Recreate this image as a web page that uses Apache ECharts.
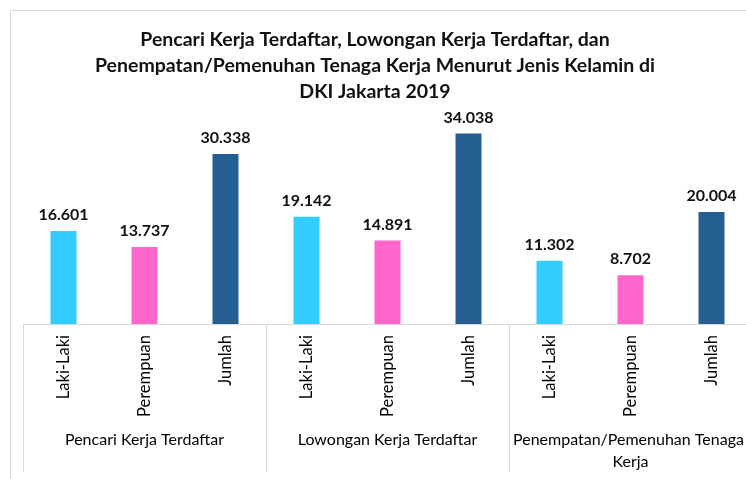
<!DOCTYPE html>
<html>
<head>
<meta charset="utf-8">
<script src="https://cdn.jsdelivr.net/npm/echarts@6/dist/echarts.min.js"></script>
<style>
  html, body { margin: 0; padding: 0; background: #fff; }
  #chart { width: 746px; height: 479px; }
</style>
</head>
<body>
<div id="chart"></div>
<script>
const titleText = 'Pencari Kerja Terdaftar, Lowongan Kerja Terdaftar, dan\nPenempatan/Pemenuhan Tenaga Kerja Menurut Jenis Kelamin di\nDKI Jakarta 2019';
const groups = ['Pencari Kerja Terdaftar', 'Lowongan Kerja Terdaftar', 'Penempatan/Pemenuhan Tenaga Kerja'];
const subCategories = ['Laki-Laki', 'Perempuan', 'Jumlah'];
const categories = ['Laki-Laki', 'Perempuan', 'Jumlah', 'Laki-Laki', 'Perempuan', 'Jumlah', 'Laki-Laki', 'Perempuan', 'Jumlah'];
const values = [16601, 13737, 30338, 19142, 14891, 34038, 11302, 8702, 20004];
const subColors = ['#33CCFF', '#FF66CC', '#255E91'];

const fontFamily = 'Lato, "Open Sans", sans-serif';
const gridColor = '#d9d9d9';

// Indonesian thousands separator
function fmt(v) {
  return String(v).replace(/\B(?=(\d{3})+(?!\d))/g, '.');
}

const chart = echarts.init(document.getElementById('chart'), null, { renderer: 'canvas' });

chart.setOption({
  backgroundColor: '#fff',
  animation: false,
  textStyle: { fontFamily: fontFamily },
  title: {
    text: titleText,
    left: 370,
    textAlign: 'center',
    top: 22,
    textStyle: {
      fontFamily: fontFamily,
      fontSize: 19.5,
      fontWeight: 'bold',
      lineHeight: 26,
      color: '#111'
    }
  },
  graphic: [{
    type: 'rect',
    shape: { x: 10.5, y: 10.5, width: 800, height: 500 },
    style: { fill: 'none', stroke: gridColor, lineWidth: 1 },
    silent: true,
    z: -1
  }],
  grid: {
    left: 23, top: 100, width: 729, height: 224,
    containLabel: false,
    outerBoundsMode: 'none'
  },
  xAxis: [{
    type: 'category',
    position: 'bottom',
    data: categories,
    axisLine: { show: true, lineStyle: { color: gridColor, width: 1 } },
    axisTick: { show: false },
    axisLabel: {
      rotate: 90,
      margin: 11,
      fontSize: 16.5,
      color: '#000',
      fontFamily: fontFamily,
      interval: 0
    }
  }, {
    type: 'category',
    position: 'bottom',
    gridIndex: 0,
    data: groups,
    axisLine: { show: false },
    axisTick: { show: true, length: 148, lineStyle: { color: gridColor, width: 1 } },
    axisLabel: {
      margin: 105,
      fontSize: 16,
      lineHeight: 22,
      color: '#000',
      fontFamily: fontFamily,
      interval: 0,
      width: 245,
      overflow: 'break'
    }
  }],
  yAxis: {
    type: 'value',
    min: 0,
    max: 40000,
    show: false,
    splitLine: { show: false }
  },
  series: [{
    type: 'bar',
    xAxisIndex: 0,
    barWidth: 26,
    data: values.map((v, i) => ({
      value: v,
      itemStyle: { color: subColors[i % subCategories.length] }
    })),
    label: {
      show: true,
      position: 'top',
      distance: 8,
      formatter: p => fmt(p.value),
      fontSize: 16,
      fontWeight: 'bold',
      color: '#111',
      fontFamily: fontFamily
    }
  }]
});
</script>
</body>
</html>
